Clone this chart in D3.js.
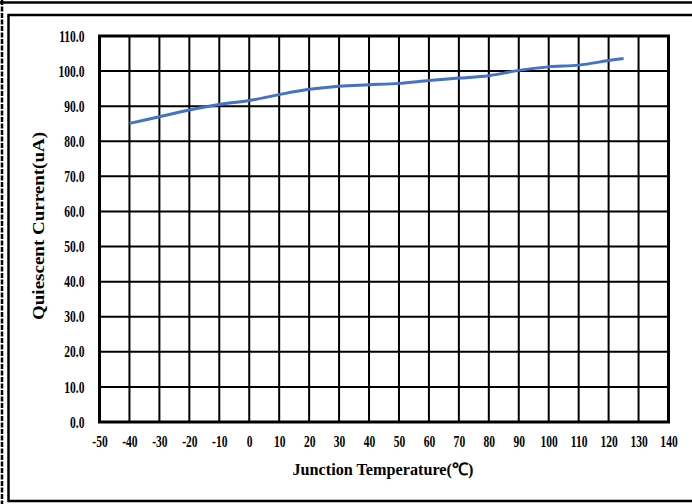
<!DOCTYPE html>
<html>
<head>
<meta charset="utf-8">
<script src="https://cdn.jsdelivr.net/npm/d3@7"></script>
<style>
  html, body { margin: 0; padding: 0; background: #fff; }
  svg { display: block; }
</style>
</head>
<body>
<svg id="chart" width="692" height="504"></svg>
<script>
// Quiescent current vs junction temperature
const temperatures = [-40, -30, -20, -10, 0, 10, 20, 30, 40, 50, 60, 70, 80, 90, 100, 110, 120, 125];
const currents     = [85.1, 87.0, 88.9, 90.5, 91.6, 93.3, 94.8, 95.7, 96.1, 96.5, 97.3, 98.0, 98.7, 100.2, 101.2, 101.7, 103.0, 103.6];
const xTicks = d3.range(-50, 141, 10);
const yTicks = d3.range(0, 111, 10);

const FONT = "Liberation Serif";
const svg = d3.select("#chart");
const W = 692, H = 504;
const plot = { left: 99.5, right: 668.5, top: 36, bottom: 422 };

const x = d3.scaleLinear().domain([-50, 140]).range([plot.left, plot.right]);
const y = d3.scaleLinear().domain([0, 110]).range([plot.bottom, plot.top]);

// outer page frame
svg.append("line").attr("x1", 0).attr("x2", W).attr("y1", 2.5).attr("y2", 2.5)
  .attr("stroke", "#000").attr("stroke-width", 2.5);
svg.append("line").attr("x1", 2).attr("x2", 2).attr("y1", 0).attr("y2", H)
  .attr("stroke", "#000").attr("stroke-width", 2.5).attr("stroke-dasharray", "5 1.5");

// chart frame
svg.append("path")
  .attr("d", `M${W + 2},15 H8.5 V501 H${W + 2}`)
  .attr("fill", "none").attr("stroke", "#000").attr("stroke-width", 2.5);

// grid
const grid = svg.append("g");
grid.selectAll("line.v").data(xTicks).join("line").attr("class", "v")
  .attr("x1", d => x(d)).attr("x2", d => x(d))
  .attr("y1", plot.top).attr("y2", plot.bottom)
  .attr("stroke", "#000").attr("stroke-width", 2);
grid.selectAll("line.h").data(yTicks).join("line").attr("class", "h")
  .attr("x1", plot.left).attr("x2", plot.right)
  .attr("y1", d => y(d)).attr("y2", d => y(d))
  .attr("stroke", "#000").attr("stroke-width", 2);
svg.append("rect")
  .attr("x", plot.left).attr("y", plot.top)
  .attr("width", plot.right - plot.left).attr("height", plot.bottom - plot.top)
  .attr("fill", "none").attr("stroke", "#000").attr("stroke-width", 3);

// narrow the labels a little, like a condensed bold serif
function condense(sel, k) {
  sel.each(function () {
    const len = this.getComputedTextLength();
    d3.select(this).attr("textLength", len * k).attr("lengthAdjust", "spacingAndGlyphs");
  });
}

// axes (labels only)
const xAxis = svg.append("g").attr("transform", `translate(0,${plot.bottom})`)
  .call(d3.axisBottom(x).tickValues(xTicks).tickSize(0).tickPadding(14).tickFormat(d => String(d)))
  .attr("font-family", FONT).attr("font-size", 16).attr("font-weight", "bold");
xAxis.select(".domain").remove();
xAxis.selectAll("text").attr("fill", "#000").call(condense, 0.72);

const yAxis = svg.append("g").attr("transform", `translate(${plot.left - 15},0)`)
  .call(d3.axisLeft(y).tickValues(yTicks).tickSize(0).tickPadding(0).tickFormat(d3.format(".1f")))
  .attr("font-family", FONT).attr("font-size", 16).attr("font-weight", "bold");
yAxis.select(".domain").remove();
yAxis.selectAll("text").attr("fill", "#000").call(condense, 0.72);

// axis titles
svg.append("text").attr("x", (plot.left + plot.right) / 2 - 1).attr("y", 475)
  .attr("text-anchor", "middle")
  .attr("font-family", FONT).attr("font-size", 17).attr("font-weight", "bold")
  .attr("textLength", 181).attr("lengthAdjust", "spacingAndGlyphs")
  .text("Junction Temperature(\u2103)");
svg.append("text")
  .attr("transform", `translate(44,${(plot.top + plot.bottom) / 2 - 3}) rotate(-90)`)
  .attr("text-anchor", "middle")
  .attr("font-family", FONT).attr("font-size", 17).attr("font-weight", "bold")
  .attr("textLength", 188).attr("lengthAdjust", "spacingAndGlyphs")
  .text("Quiescent Current(uA)");

// data line
const line = d3.line().x((d, i) => x(temperatures[i])).y(d => y(d)).curve(d3.curveCatmullRom.alpha(0.5));
svg.append("path").datum(currents)
  .attr("d", line)
  .attr("fill", "none").attr("stroke", "#4472C4").attr("stroke-width", 3);
</script>
</body>
</html>
